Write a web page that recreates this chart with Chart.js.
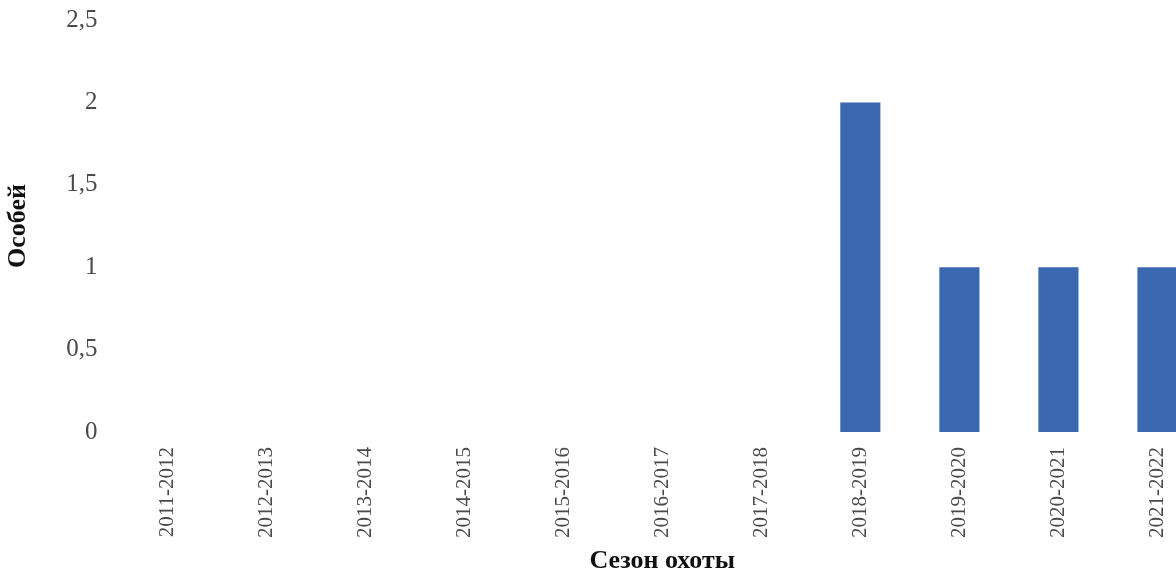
<!DOCTYPE html>
<html>
<head>
<meta charset="utf-8">
<script src="https://cdn.jsdelivr.net/npm/chart.js@4/dist/chart.umd.min.js"></script>
<style>
  html, body { margin: 0; padding: 0; background: #fff; overflow: hidden; }
  #wrap { width: 1176px; height: 577px; overflow: hidden; }
</style>
</head>
<body>
<div id="wrap"><canvas id="chart" width="1207" height="577"></canvas></div>
<script>
var seasons = ['2011-2012', '2012-2013', '2013-2014', '2014-2015', '2015-2016', '2016-2017',
	'2017-2018', '2018-2019', '2019-2020', '2020-2021', '2021-2022'];
var counts = [0, 0, 0, 0, 0, 0, 0, 2, 1, 1, 1];
var yMax = 2.5;
var yStep = 0.5;

var serif = "'Liberation Serif', 'Times New Roman', serif";

var config = {
	type: 'bar',
	data: {
		labels: seasons,
		datasets: [{
			label: 'Особей',
			data: counts,
			backgroundColor: '#3b68b0',
			borderWidth: 0,
			categoryPercentage: 1,
			barPercentage: 0.405
		}]
	},
	options: {
		responsive: false,
		animation: false,
		layout: {
			padding: { left: 2, top: 0, right: 0, bottom: 0 }
		},
		plugins: {
			legend: false,
			tooltip: { enabled: false }
		},
		scales: {
			x: {
				grid: { display: false, drawTicks: false },
				border: { display: false },
				ticks: {
					minRotation: 90,
					maxRotation: 90,
					autoSkip: false,
					padding: 15,
					color: '#4a4a4a',
					font: { family: serif, size: 21 }
				},
				title: {
					display: true,
					text: 'Сезон охоты',
					color: '#111',
					padding: { top: 4, bottom: 0 },
					font: { family: serif, size: 26, weight: 'bold' }
				},
				afterFit: function(scale) { scale.height = 145; }
			},
			y: {
				min: 0,
				max: yMax,
				grid: { display: false, drawTicks: false },
				border: { display: false },
				ticks: {
					stepSize: yStep,
					padding: 20,
					color: '#4a4a4a',
					font: { family: serif, size: 25 },
					callback: function(v) { return String(v).replace('.', ','); }
				},
				title: {
					display: true,
					text: 'Особей',
					color: '#111',
					padding: { top: 1, bottom: 4 },
					font: { family: serif, size: 26, weight: 'bold' }
				},
				afterFit: function(scale) {
					scale.width = 115.5;
					// tick padding also pads the top; keep only room for the top label
					scale.paddingTop = 20;
				}
			}
		}
	}
};

new Chart(document.getElementById('chart'), config);
</script>
</body>
</html>
